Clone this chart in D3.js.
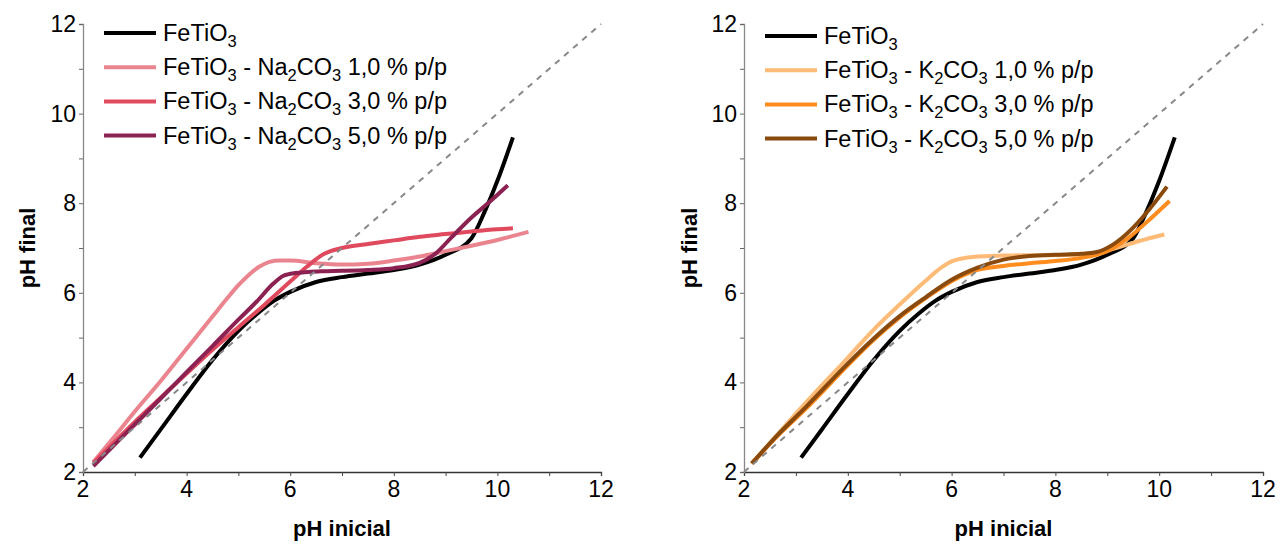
<!DOCTYPE html>
<html><head><meta charset="utf-8">
<script src="https://cdn.jsdelivr.net/npm/d3@7"></script>
<style>body{margin:0;background:#fff}svg{display:block}</style>
</head><body>
<svg id="c" width="1280" height="544"></svg>
<script>
const xTicks = [2,4,6,8,10,12];
const yTicks = [2,4,6,8,10,12];
const xTitle = "pH inicial";
const yTitle = "pH final";

const fetio3 = [[3.1,2.32],[3.5,2.95],[4,3.74],[4.5,4.5],[5,5.15],[5.35,5.52],[5.7,5.83],[6,6.02],[6.5,6.24],[7,6.35],[7.5,6.43],[8,6.51],[8.5,6.63],[9,6.85],[9.5,7.22],[9.75,7.8],[10,8.5],[10.3,9.47]];

const na1 = [[2.2,2.22],[2.6,2.78],[3,3.35],[3.5,4.03],[4,4.75],[4.5,5.47],[4.8,5.9],[5,6.17],[5.2,6.4],[5.4,6.58],[5.6,6.69],[5.8,6.72],[6,6.72],[6.5,6.66],[7,6.63],[7.5,6.65],[8,6.72],[8.5,6.81],[9,6.93],[9.5,7.05],[10,7.18],[10.6,7.36]];
const na3 = [[2.2,2.2],[2.6,2.66],[3,3.12],[3.5,3.66],[4,4.2],[4.5,4.73],[5,5.23],[5.5,5.73],[6,6.25],[6.32,6.58],[6.64,6.86],[7,7.0],[7.5,7.09],[8,7.17],[8.5,7.25],[9,7.31],[9.5,7.37],[10,7.42],[10.3,7.44]];
const na5 = [[2.2,2.13],[2.6,2.6],[3,3.06],[3.5,3.64],[4,4.23],[4.5,4.81],[5,5.4],[5.35,5.8],[5.67,6.2],[5.87,6.38],[6.1,6.44],[6.6,6.48],[7,6.49],[7.5,6.51],[8,6.55],[8.5,6.67],[8.8,6.87],[9.1,7.22],[9.5,7.68],[9.8,7.98],[10.2,8.4]];

const k1 = [[2.15,2.19],[2.6,2.78],[3.2,3.56],[4,4.55],[4.5,5.18],[5,5.74],[5.5,6.27],[5.8,6.56],[6,6.7],[6.4,6.8],[7,6.83],[7.5,6.84],[8,6.84],[8.5,6.85],[8.8,6.88],[9.2,7.01],[9.6,7.15],[10.1,7.3]];
const k3 = [[2.15,2.19],[2.6,2.75],[3.2,3.42],[4,4.38],[4.5,4.95],[5,5.45],[5.5,5.88],[6,6.26],[6.5,6.51],[7,6.6],[7.5,6.66],[8,6.71],[8.5,6.78],[9,6.93],[9.4,7.22],[9.8,7.62],[10.2,8.05]];
const k5 = [[2.15,2.19],[2.6,2.77],[3.2,3.46],[4,4.42],[4.5,4.98],[5,5.48],[5.5,5.9],[6,6.29],[6.5,6.56],[7,6.74],[7.5,6.82],[8,6.85],[8.5,6.87],[8.8,6.91],[9.1,7.07],[9.45,7.4],[9.8,7.85],[10.15,8.37]];

const leftNames = ["FeTiO3","FeTiO3 - Na2CO3 1,0 % p/p","FeTiO3 - Na2CO3 3,0 % p/p","FeTiO3 - Na2CO3 5,0 % p/p"];
const rightNames = ["FeTiO3","FeTiO3 - K2CO3 1,0 % p/p","FeTiO3 - K2CO3 3,0 % p/p","FeTiO3 - K2CO3 5,0 % p/p"];
const leftColors = ["#000000","#EA8590","#E04A5E","#8C2252"];
const rightColors = ["#000000","#FDBB77","#FF8C1F","#8A4A0E"];
const leftSeries = [fetio3, na1, na3, na5];
const rightSeries = [fetio3, k1, k3, k5];

const svg = d3.select("#c");
const FONT = "Liberation Sans, Arial, sans-serif";

function panel(x0, x1, series, colors, names, yTitleX, legTop) {
  const x = d3.scaleLinear().domain([2,12]).range([x0, x1]);
  const y = d3.scaleLinear().domain([2,12]).range([472, 24]);
  const g = svg.append("g");

  const xa = g.append("g").attr("transform", "translate(0,472)")
    .call(d3.axisBottom(x).tickValues(d3.range(2,13,1)).tickSize(4).tickFormat(""));
  xa.select(".domain").attr("stroke","#333").attr("stroke-width",1.3);
  xa.selectAll(".tick line").attr("stroke","#444");
  const ya = g.append("g").attr("transform", `translate(${x0},0)`)
    .call(d3.axisLeft(y).tickValues(d3.range(2,13,1)).tickSize(4).tickFormat(""));
  ya.select(".domain").attr("stroke","#888").attr("stroke-width",1.3);
  ya.selectAll(".tick line").attr("stroke","#666");

  g.selectAll(".xl").data(xTicks).join("text")
    .attr("x", d => x(d)).attr("y", 497)
    .attr("text-anchor","middle").attr("font-family",FONT).attr("font-size",23)
    .text(d => d);
  g.selectAll(".yl").data(yTicks).join("text")
    .attr("x", x0 - 7).attr("y", d => y(d) + 8)
    .attr("text-anchor","end").attr("font-family",FONT).attr("font-size",23)
    .text(d => d);

  g.append("text").attr("x",(x0+x1)/2).attr("y",536).attr("text-anchor","middle")
    .attr("font-family",FONT).attr("font-size",22).attr("font-weight","bold").text(xTitle);
  g.append("text").attr("transform",`translate(${yTitleX},${(24+472)/2}) rotate(-90)`)
    .attr("text-anchor","middle").attr("font-family",FONT).attr("font-size",22)
    .attr("font-weight","bold").text(yTitle);

  const line = d3.line().x(d => x(d[0])).y(d => y(d[1])).curve(d3.curveMonotoneX);
  series.forEach((s,i) => {
    g.append("path").attr("d", line(s)).attr("fill","none")
      .attr("stroke", colors[i]).attr("stroke-width",4)
      .attr("stroke-linecap","butt").attr("stroke-linejoin","round");
  });

  g.append("line").attr("x1",x(2)).attr("y1",y(2)).attr("x2",x(12)).attr("y2",y(12))
    .attr("stroke","#888").attr("stroke-width",2).attr("stroke-dasharray","6,6");

  const lx = x0 + 21;
  names.forEach((n,i) => {
    const ly = legTop + i*34.2;
    g.append("line").attr("x1",lx).attr("x2",lx+52).attr("y1",ly).attr("y2",ly)
      .attr("stroke",colors[i]).attr("stroke-width",4);
    const t = g.append("text").attr("x",lx+59).attr("y",ly+8)
      .attr("font-family",FONT).attr("font-size",23.5);
    const re = /([A-Za-z])(\d)/g;
    let last = 0, m;
    const segs = [];
    while ((m = re.exec(n)) !== null) {
      segs.push({t: n.slice(last, m.index+1), sub:false});
      segs.push({t: m[2], sub:true});
      last = m.index + 2;
    }
    segs.push({t: n.slice(last), sub:false});
    let shifted = false;
    segs.forEach(s => {
      if (!s.t) return;
      const ts = t.append("tspan").text(s.t);
      if (s.sub) { ts.attr("font-size",16.5).attr("dy",6); shifted = true; }
      else if (shifted) { ts.attr("dy",-6); shifted = false; }
    });
  });
}

panel(83, 601, leftSeries, leftColors, leftNames, 35, 33);
panel(744, 1263, rightSeries, rightColors, rightNames, 697, 36);
</script>
</body></html>
